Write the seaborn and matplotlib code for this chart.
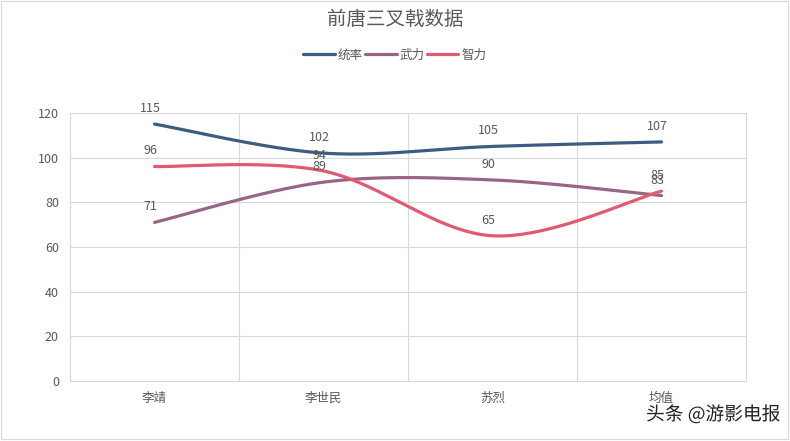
import numpy as np
import pandas as pd
import matplotlib
matplotlib.use("Agg")
import matplotlib.pyplot as plt
import matplotlib.patheffects as pe
import seaborn as sns

categories = ["李靖", "李世民", "苏烈", "均值"]
tongshuai = [115, 102, 105, 107]
wuli = [71, 89, 90, 83]
zhili = [96, 94, 65, 85]
series_names = ["统率", "武力", "智力"]
colors = ["#3E5C80", "#986585", "#E05A70"]
yticks = [0, 20, 40, 60, 80, 100, 120]

sns.set_theme(style="white")
plt.rcParams["font.family"] = ["Noto Sans CJK SC", "DejaVu Sans"]

def smooth(vals, n=60):
    """Catmull-Rom (Excel-like) smoothing of a series through category positions."""
    x = np.arange(len(vals), dtype=float)
    y = np.asarray(vals, dtype=float)
    P = np.column_stack([x, y])
    P = np.vstack([P[0], P, P[-1]])
    xs, ys = [], []
    t = np.linspace(0, 1, n)
    for i in range(1, len(P) - 2):
        p0, p1, p2, p3 = P[i - 1], P[i], P[i + 1], P[i + 2]
        c1 = p1 + (p2 - p0) / 6
        c2 = p2 - (p3 - p1) / 6
        b = ((1 - t) ** 3)[:, None] * p1 + (3 * (1 - t) ** 2 * t)[:, None] * c1 \
            + (3 * (1 - t) * t ** 2)[:, None] * c2 + (t ** 3)[:, None] * p2
        xs.append(b[:, 0]); ys.append(b[:, 1])
    return np.concatenate(xs), np.concatenate(ys)

fig = plt.figure(figsize=(7.9, 4.41), dpi=100)
ax = fig.add_axes([0.0886, 0.136, 0.8557, 0.608])

frames = []
for name, vals in zip(series_names, [tongshuai, wuli, zhili]):
    sx, sy = smooth(vals)
    frames.append(pd.DataFrame({"x": sx, "y": sy, "series": name}))
df = pd.concat(frames, ignore_index=True)

sns.lineplot(data=df, x="x", y="y", hue="series", palette=colors, sort=False,
             linewidth=2.3, ax=ax, legend=True, estimator=None)

text_color = "#595959"
for vals in [tongshuai, wuli, zhili]:
    for i, v in enumerate(vals):
        ax.annotate(str(v), (i, v), xytext=(-3, 6.5), textcoords="offset points",
                    ha="center", va="bottom", fontsize=9, color=text_color)

ax.set_xlim(-0.5, len(categories) - 0.5)
ax.set_ylim(0, 120)
ax.set_yticks(yticks)
ax.set_yticklabels([str(t) for t in yticks], fontsize=9, color=text_color)
ax.set_xticks(range(len(categories)))
ax.set_xticklabels(categories, fontsize=9, color=text_color)
ax.set_xlabel("")
ax.set_ylabel("")
ax.tick_params(axis="both", length=0, pad=8)

grid_c = "#D9D9D9"
for t in yticks[1:]:
    ax.axhline(t, color=grid_c, linewidth=0.8, zorder=0)
for xb in [0.5, 1.5, 2.5]:
    ax.axvline(xb, color=grid_c, linewidth=0.8, zorder=0)
for side in ["left", "bottom", "right"]:
    ax.spines[side].set_visible(True)
    ax.spines[side].set_color(grid_c)
    ax.spines[side].set_linewidth(0.8)
ax.spines["top"].set_visible(False)

handles, labels = ax.get_legend_handles_labels()
ax.legend(handles, labels, loc="upper center", bbox_to_anchor=(0.5, 0.915),
          bbox_transform=fig.transFigure, ncol=3, frameon=False, fontsize=9,
          handlelength=2.5, handletextpad=0.25, columnspacing=0.2,
          labelcolor=text_color)

fig.text(0.5, 0.955, "前唐三叉戟数据", ha="center", va="center",
         fontsize=14, color=text_color)

fig.text(0.988, 0.06, "头条 @游影电报", ha="right", va="center", fontsize=13.5,
         color="#222222",
         path_effects=[pe.withStroke(linewidth=2, foreground="white")])

border = plt.Rectangle((0.001, 0.005), 0.997, 0.993, transform=fig.transFigure,
                       fill=False, edgecolor="#D9D9D9", linewidth=0.8)
fig.patches.append(border)

fig.savefig("out.png", dpi=100)
